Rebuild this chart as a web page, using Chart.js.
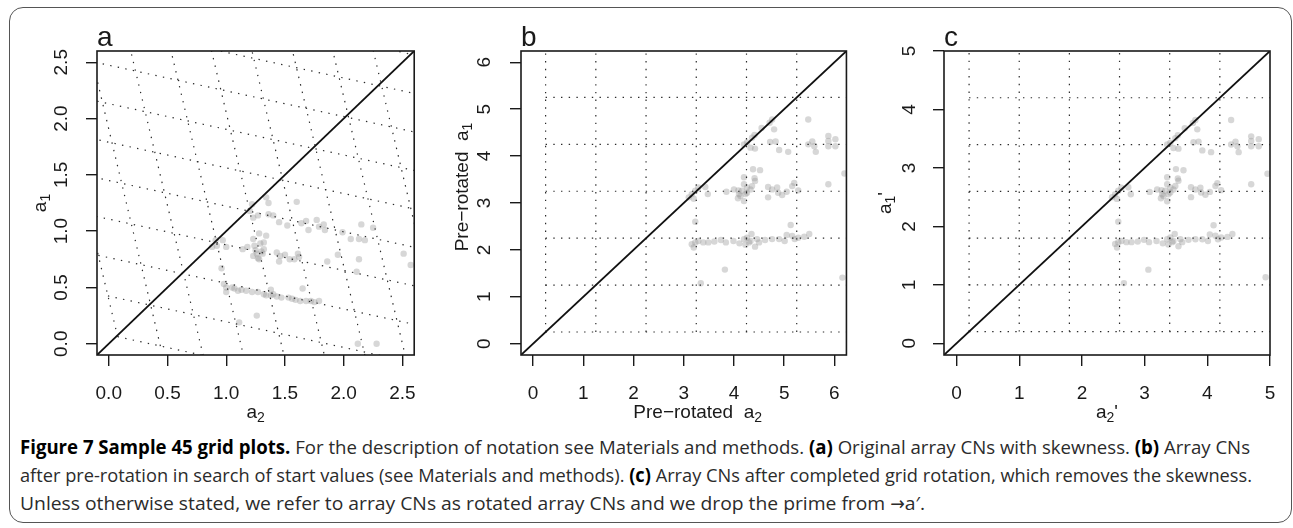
<!DOCTYPE html>
<html>
<head>
<meta charset="utf-8">
<script src="https://cdn.jsdelivr.net/npm/chart.js@4.4.1/dist/chart.umd.min.js"></script>
<style>
    html, body { margin: 0; padding: 0; background: #fff; }
    body { width: 1293px; height: 528px; position: relative; overflow: hidden; }
    .frame { position: absolute; left: 9px; top: 7px; width: 1283px; height: 516px; border: 1.5px solid #555; border-radius: 14px; box-sizing: border-box; }
    canvas { position: absolute; top: 0; }
    #caption { position: absolute; left: 20px; top: 433px; font-family: "Open Sans", "DejaVu Sans Condensed", sans-serif; font-size: 19px; line-height: 28px; color: #2b2b2b; }
    #caption .line { display: inline-block; white-space: nowrap; transform-origin: 0 50%; }
    #caption b { color: #000; font-weight: 700; }
</style>
</head>
<body>
<div class="frame"></div>
<canvas id="panelA" width="432" height="430" style="left:0px"></canvas>
<canvas id="panelB" width="424" height="430" style="left:432px"></canvas>
<canvas id="panelC" width="437" height="430" style="left:856px"></canvas>
<div id="caption">
    <div><span class="line" data-w="1230"><b>Figure 7 Sample 45 grid plots.</b> For the description of notation see Materials and methods. <b>(a)</b> Original array CNs with skewness. <b>(b)</b> Array CNs</span></div>
    <div><span class="line" data-w="1232">after pre-rotation in search of start values (see Materials and methods). <b>(c)</b> Array CNs after completed grid rotation, which removes the skewness.</span></div>
    <div><span class="line" data-w="905">Unless otherwise stated, we refer to array CNs as rotated array CNs and we drop the prime from →a′.</span></div>
</div>
<script>
// axis ticks
const aTicks = [0, 0.5, 1, 1.5, 2, 2.5];
const bTicks = [0, 1, 2, 3, 4, 5, 6];
const cTicks = [0, 1, 2, 3, 4, 5];

// panel a: skewed lattice (y = c - k*x rows, x = d - k*y columns)
const aSkew = 0.228;
const aRowIntercepts = [0.08, 0.423, 0.765, 1.107, 1.45, 1.79, 2.132, 2.474, 2.816, 3.158];
const aColIntercepts = [0.09, 0.435, 0.78, 1.123, 1.468, 1.812, 2.157, 2.50, 2.845];

// panels b and c: square lattice
const bGridAt = [0.25, 1.25, 2.25, 3.25, 4.25, 5.25];
const cGridAt = [0.2, 1.0, 1.8, 2.6, 3.4, 4.2];

// sample points, panel a (original)
const aX = [1.60, 1.36, 1.34, 1.22, 1.20, 1.23, 1.27, 1.36, 1.40, 1.45, 1.52, 1.64, 1.68, 1.70, 1.77, 1.79, 1.83, 1.84, 1.99, 2.06,
    2.13, 2.18, 2.15, 2.25, 2.51, 2.57, 1.95, 1.86, 2.13, 2.11,
    0.88, 0.92, 0.97, 0.91, 1.00, 1.14, 1.18, 1.24, 1.23, 1.28, 1.34, 1.25, 1.29, 1.32, 1.23, 1.28, 1.31, 1.32, 1.43, 1.46,
    1.50, 1.54, 1.58, 1.61, 1.62, 1.45, 0.96, 1.26, 1.30, 1.27,
    0.98, 1.00, 1.00, 1.05, 1.07, 1.13, 1.17, 1.22, 1.27, 1.32, 1.34, 1.38, 1.38, 1.43, 1.47, 1.53, 1.59, 1.63, 1.68, 1.72,
    1.75, 1.79, 1.65, 1.26, 1.11, 2.12, 2.28, 1.40, 1.56, 1.10];
const aY = [1.26, 1.25, 1.30, 1.24, 1.18, 1.12, 1.14, 1.15, 1.14, 1.08, 1.05, 1.07, 1.09, 1.01, 1.10, 1.04, 1.06, 1.01, 0.99, 0.93,
    0.93, 0.92, 1.06, 1.03, 0.80, 0.70, 0.79, 0.73, 0.75, 0.64,
    0.86, 0.87, 0.92, 0.92, 0.86, 0.84, 0.86, 0.87, 0.93, 0.98, 0.96, 0.83, 0.89, 0.84, 0.78, 0.75, 0.80, 0.90, 0.81, 0.78,
    0.79, 0.75, 0.75, 0.80, 0.77, 0.73, 0.67, 0.80, 0.82, 0.76,
    0.53, 0.50, 0.46, 0.50, 0.49, 0.48, 0.47, 0.46, 0.46, 0.44, 0.43, 0.48, 0.43, 0.42, 0.41, 0.41, 0.39, 0.38, 0.38, 0.38,
    0.37, 0.38, 0.49, 0.25, 0.19, 0.00, 0.00, 0.44, 0.40, 0.47];

// panel b (pre-rotated)
const bX = [5.48, 4.76, 4.71, 4.80, 4.55, 4.41, 4.36, 4.26, 4.20, 4.33, 4.42, 4.72, 4.83, 4.90, 5.08, 5.48, 5.56, 5.60, 5.63, 5.88,
    5.88, 5.88, 6.02, 6.02, 6.20,
    3.10, 3.16, 3.23, 3.29, 3.43, 3.48, 3.20, 3.85, 4.00, 4.09, 4.08, 4.13, 4.20, 4.16, 4.20, 4.26, 4.23, 4.33, 4.36, 4.42,
    4.41, 4.20, 4.38, 4.52, 4.68, 4.68, 4.76, 4.86, 4.88, 4.96, 5.05, 5.16, 5.20, 5.28, 5.88, 4.10, 4.26,
    3.23, 3.16, 3.20, 3.23, 3.29, 3.39, 3.49, 3.61, 3.74, 3.84, 3.99, 4.11, 4.20, 4.23, 4.33, 4.35, 4.42, 4.46, 4.50, 4.62,
    4.76, 4.90, 5.01, 5.05, 5.13, 5.16, 5.21, 5.28, 5.40, 5.50, 3.82, 3.34, 6.16, 4.30, 4.26];
const bY = [4.78, 4.78, 4.71, 4.57, 4.60, 4.45, 4.39, 4.29, 4.25, 4.18, 4.16, 4.30, 4.31, 4.13, 4.09, 4.25, 4.31, 4.21, 4.09, 4.43,
    4.32, 4.21, 4.36, 4.21, 3.63,
    3.12, 3.19, 3.26, 3.33, 3.34, 3.19, 3.09, 3.24, 3.29, 3.27, 3.10, 3.15, 3.04, 3.26, 3.40, 3.33, 3.19, 3.29, 3.36, 3.47,
    3.53, 3.55, 3.72, 3.70, 3.34, 3.12, 3.29, 3.33, 3.22, 3.17, 3.24, 3.36, 3.43, 3.27, 3.40, 3.19, 3.22,
    2.60, 2.12, 2.05, 2.16, 2.19, 2.16, 2.16, 2.18, 2.21, 2.16, 2.19, 2.14, 2.23, 2.11, 2.19, 2.34, 2.07, 2.23, 2.16, 2.21,
    2.23, 2.23, 2.19, 2.32, 2.53, 2.30, 2.23, 2.26, 2.28, 2.34, 1.58, 1.29, 1.41, 2.16, 2.26];

// panel c (rotated)
const cX = [4.38, 3.81, 3.77, 3.84, 3.64, 3.53, 3.49, 3.41, 3.36, 3.46, 3.54, 3.78, 3.86, 3.92, 4.06, 4.38, 4.45, 4.48, 4.50, 4.70,
    4.70, 4.70, 4.82, 4.82, 4.96,
    2.48, 2.53, 2.58, 2.63, 2.74, 2.78, 2.56, 3.08, 3.20, 3.27, 3.26, 3.30, 3.36, 3.33, 3.36, 3.41, 3.38, 3.46, 3.49, 3.54,
    3.53, 3.36, 3.50, 3.62, 3.74, 3.74, 3.81, 3.89, 3.90, 3.97, 4.04, 4.13, 4.16, 4.22, 4.70, 3.28, 3.41,
    2.58, 2.53, 2.56, 2.58, 2.63, 2.71, 2.79, 2.89, 2.99, 3.07, 3.19, 3.29, 3.36, 3.38, 3.46, 3.48, 3.54, 3.57, 3.60, 3.70,
    3.81, 3.92, 4.01, 4.04, 4.10, 4.13, 4.17, 4.22, 4.32, 4.40, 3.06, 2.67, 4.93, 3.44, 3.41];
const cY = [3.82, 3.82, 3.77, 3.66, 3.68, 3.56, 3.51, 3.43, 3.40, 3.34, 3.33, 3.44, 3.45, 3.30, 3.27, 3.40, 3.45, 3.37, 3.27, 3.54,
    3.46, 3.37, 3.49, 3.37, 2.90,
    2.50, 2.55, 2.61, 2.66, 2.67, 2.55, 2.47, 2.59, 2.63, 2.62, 2.48, 2.52, 2.43, 2.61, 2.72, 2.66, 2.55, 2.63, 2.69, 2.78,
    2.82, 2.84, 2.98, 2.96, 2.67, 2.50, 2.63, 2.66, 2.58, 2.54, 2.59, 2.69, 2.74, 2.62, 2.72, 2.55, 2.58,
    2.08, 1.70, 1.64, 1.73, 1.75, 1.73, 1.73, 1.74, 1.77, 1.73, 1.75, 1.71, 1.78, 1.69, 1.75, 1.87, 1.66, 1.78, 1.73, 1.77,
    1.78, 1.78, 1.75, 1.86, 2.02, 1.84, 1.78, 1.81, 1.82, 1.87, 1.26, 1.03, 1.13, 1.73, 1.81];

const FONT = '"Liberation Sans", Arial, Helvetica, sans-serif';
const INK = '#1a1a1a';

// draws "a_{2}'" style labels: text with R-like subscripts, centred on (0, 0)
function drawMathLabel(ctx, label) {
    const parts = label.split(/_\{([^}]*)\}/).map((t, i) => ({ t, sub: i % 2 === 1 })).filter(p => p.t);
    const fontFor = (p) => (p.sub ? 14 : 19) + 'px ' + FONT;
    let total = 0;
    parts.forEach(p => { ctx.font = fontFor(p); p.w = ctx.measureText(p.t).width; total += p.w; });
    let x = -total / 2;
    ctx.textAlign = 'left';
    ctx.textBaseline = 'alphabetic';
    parts.forEach(p => {
        ctx.font = fontFor(p);
        ctx.fillText(p.t, x, p.sub ? 10 : 6);
        x += p.w;
    });
}

const panelDeco = {
    id: 'panelDeco',
    afterDatasetsDraw(chart, args, opts) {
        const { ctx, chartArea: a } = chart;
        ctx.save();
        ctx.strokeStyle = INK;
        ctx.lineWidth = 1.6;
        ctx.strokeRect(a.left, a.top, a.right - a.left, a.bottom - a.top);
        ctx.fillStyle = INK;
        ctx.font = '28px ' + FONT;
        ctx.textAlign = 'left';
        ctx.textBaseline = 'alphabetic';
        ctx.fillText(opts.letter, a.left, 46);

        ctx.save();
        ctx.translate((a.left + a.right) / 2 + opts.xShift, 412);
        drawMathLabel(ctx, opts.xTitle);
        ctx.restore();

        ctx.translate(a.left - opts.yGap, (a.top + a.bottom) / 2 + opts.yShift);
        ctx.rotate(-Math.PI / 2);
        drawMathLabel(ctx, opts.yTitle);
        ctx.restore();
    }
};

function lineSet(points, width, color, dash) {
    return {
        data: points, showLine: true, pointRadius: 0, borderWidth: width,
        borderColor: color, borderDash: dash, fill: false, order: dash.length ? 1 : 0
    };
}

function pointSet(xs, ys) {
    return {
        data: xs.map((x, i) => ({ x, y: ys[i] })),
        pointRadius: 3.2, pointBorderWidth: 0,
        pointBackgroundColor: 'rgba(155, 155, 155, 0.4)', showLine: false, order: 2
    };
}

function makePanel(id, p) {
    const scale = (ticks, isY) => ({
        type: 'linear', min: p.min, max: p.max,
        afterBuildTicks: (s) => { s.ticks = ticks.map(v => ({ value: v })); },
        afterFit: (s) => { if (isY) s.width = p.yAxisW; else s.height = 75; },
        grid: { drawOnChartArea: false, drawTicks: true, tickLength: 11, color: INK, lineWidth: 1.4 },
        border: { display: false },
        ticks: isY
            ? { font: { family: FONT, size: 19 }, color: INK, padding: p.yPad, minRotation: 90, maxRotation: 90, crossAlign: 'center', autoSkip: false, callback: p.fmt }
            : { font: { family: FONT, size: 19 }, color: INK, padding: 16, minRotation: 0, maxRotation: 0, autoSkip: false, callback: p.fmt }
    });

    return new Chart(document.getElementById(id), {
        type: 'scatter',
        data: { datasets: p.datasets },
        options: {
            responsive: false, animation: false, events: [],
            layout: { padding: { top: 51, left: 0, right: p.padRight, bottom: 0 } },
            plugins: { legend: { display: false }, tooltip: { enabled: false }, panelDeco: p.deco },
            scales: { x: scale(p.ticks, false), y: scale(p.ticks, true) }
        },
        plugins: [panelDeco]
    });
}

const DOT = [1.4, 6.3];
const GRID_INK = '#2a2a2a';

// panel a lattice lines
const k = aSkew;
const d0 = aColIntercepts[0];
const c0 = aRowIntercepts[0];
const aGrid = [];
aRowIntercepts.forEach(c => {
    const x0 = (d0 - k * c) / (1 - k * k);
    aGrid.push(lineSet([{ x: x0, y: c - k * x0 }, { x: 3, y: c - 3 * k }], 1.2, GRID_INK, DOT));
});
aColIntercepts.forEach(d => {
    const y0 = (c0 - k * d) / (1 - k * k);
    aGrid.push(lineSet([{ x: d - k * y0, y: y0 }, { x: d - 3 * k, y: 3 }], 1.2, GRID_INK, DOT));
});

function squareGrid(at, from, to) {
    const out = [];
    at.forEach(v => {
        out.push(lineSet([{ x: v, y: from }, { x: v, y: to }], 1.2, GRID_INK, DOT));
        out.push(lineSet([{ x: from, y: v }, { x: to, y: v }], 1.2, GRID_INK, DOT));
    });
    return out;
}

const diag = (lo, hi) => lineSet([{ x: lo, y: lo }, { x: hi, y: hi }], 1.8, '#111', []);

makePanel('panelA', {
    min: -0.1, max: 2.6, ticks: aTicks, fmt: v => Number(v).toFixed(1),
    yAxisW: 97, yPad: 10.8, padRight: 9,
    datasets: [diag(-1, 4), ...aGrid, pointSet(aX, aY)],
    deco: { letter: 'a', xTitle: 'a_{2}', yTitle: 'a_{1}', xShift: 0, yShift: 0, yGap: 57 }
});

makePanel('panelB', {
    min: -0.24, max: 6.24, ticks: bTicks, fmt: v => String(v),
    yAxisW: 89, yPad: 19.7, padRight: 9,
    datasets: [diag(-1, 8), ...squareGrid(bGridAt, 0.25, 6.24), pointSet(bX, bY)],
    deco: { letter: 'b', xTitle: 'Pre−rotated  a_{2}', yTitle: 'Pre−rotated  a_{1}', xShift: 14, yShift: -16, yGap: 59 }
});

makePanel('panelC', {
    min: -0.2, max: 5.0, ticks: cTicks, fmt: v => String(v),
    yAxisW: 88, yPad: 17.7, padRight: 23,
    datasets: [diag(-1, 7), ...squareGrid(cGridAt, 0.2, 5.0), pointSet(cX, cY)],
    deco: { letter: 'c', xTitle: "a_{2}'", yTitle: "a_{1}'", xShift: 0, yShift: 0, yGap: 59 }
});

// fit caption lines to the widths of the original layout
function fitCaption() {
    document.querySelectorAll('#caption .line').forEach(el => {
        const target = Number(el.dataset.w);
        const w = el.getBoundingClientRect().width;
        if (w > 0) el.style.transform = `scaleX(${target / w})`;
    });
}
if (document.fonts && document.fonts.ready) document.fonts.ready.then(fitCaption);
else fitCaption();
</script>
</body>
</html>
